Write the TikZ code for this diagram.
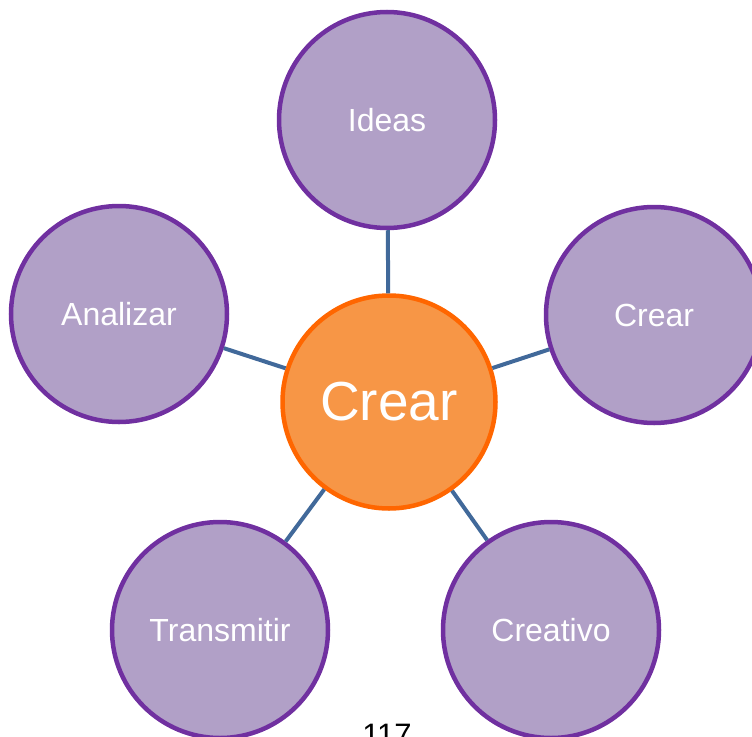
\documentclass[tikz,border=0pt]{standalone}
\usepackage{fontspec}
\setmainfont{Liberation Sans}
\usetikzlibrary{positioning}
\definecolor{leafFill}{HTML}{B1A0C7}
\definecolor{leafDraw}{HTML}{7030A0}
\definecolor{hubFill}{HTML}{F79646}
\definecolor{hubDraw}{HTML}{FF6600}
\definecolor{linkCol}{HTML}{41699A}
\begin{document}
\begin{tikzpicture}[
  x=1pt,y=-1pt,
  leaf/.style={circle,draw=leafDraw,line width=4.5pt,fill=leafFill,minimum size=216pt,
               inner sep=0pt,text=white,font=\fontsize{32}{36}\selectfont},
  hub/.style={circle,draw=hubDraw,line width=4.5pt,fill=hubFill,minimum size=213pt,
              inner sep=0pt,text=white,font=\fontsize{55}{62}\selectfont},
  link/.style={linkCol,line width=4pt}
]
\clip (0,0) rectangle (752,736);
\useasboundingbox (0,0) rectangle (752,736);
% centre and surrounding ideas
\node[hub]  (crear)  at (389,402) {Crear};
\node[leaf] (ideas)  at (387,120) {Ideas};
\node[leaf] (anal)   at (119,314) {Analizar};
\node[leaf] (crear2) at (654,315) {Crear};
\node[leaf] (trans)  at (220,630) {Transmitir};
\node[leaf] (creat)  at (551,630) {Creativo};
% connectors
\foreach \t in {ideas,anal,crear2,trans,creat}
  \draw[link] (crear) -- (\t);
\node[font=\fontsize{31}{36}\selectfont,anchor=base] (page) at (387,745) {117};
\end{tikzpicture}
\end{document}
